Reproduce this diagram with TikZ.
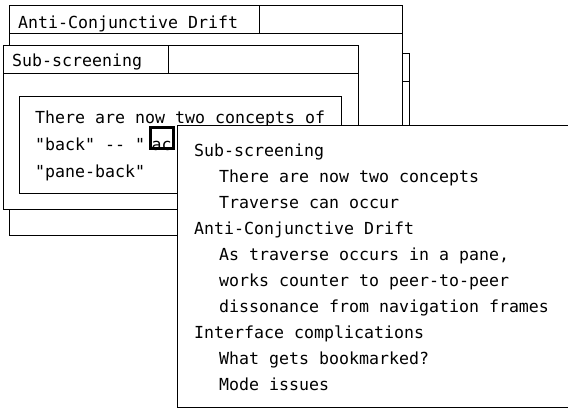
\documentclass[tikz,border=0pt]{standalone}
\usepackage{fontspec}
\newfontfamily\macfont{DejaVu Sans Mono}
\begin{document}
\begin{tikzpicture}[x=1pt,y=-1pt,
  win/.style={draw=black,fill=white,line width=1pt},
  rule/.style={draw=black,line width=1pt},
  txt/.style={anchor=base west,inner sep=0pt,font=\macfont\fontsize{16.6}{20}\selectfont},
  sel/.style={draw=black,line width=3pt}]
\useasboundingbox[fill=white] (0,0) rectangle (568,408);
% window at the back (only its right edge shows)
\draw[win] (380,53) rectangle (409,300);
\draw[rule] (380,81) -- (409,81);
% Anti-Conjunctive Drift window
\draw[win] (9,5) rectangle (402,235);
\draw[rule] (9,33) -- (402,33);
\draw[rule] (259,5) -- (259,33);
\node[txt] (t1) at (18,28) {Anti-Conjunctive Drift};
% Sub-screening window
\draw[win] (3,45) rectangle (358,209);
\draw[rule] (3,73) -- (358,73);
\draw[rule] (168,45) -- (168,73);
\node[txt] (t2) at (12,66) {Sub-screening};
\draw[rule] (19,96) rectangle (341,193);
\node[txt] (p1) at (35,123) {There are now two concepts of};
\node[txt] (p2) at (35,150) {"back" -- "};
\node[txt] (p2b) at (151.5,150) {ac};
\node[txt] (p3) at (35,177) {"pane-back"};
% selection box
\draw[sel] (150.5,127.5) rectangle (173.5,148.5);
% popup
\draw[win] (177,125) rectangle (600,407);
\foreach \i/\x/\s in {0/194/Sub-screening,
  1/219/There are now two concepts,
  2/219/Traverse can occur,
  3/194/Anti-Conjunctive Drift,
  4/219/{As traverse occurs in a pane,},
  5/219/works counter to peer-to-peer,
  6/219/dissonance from navigation frames,
  7/194/Interface complications,
  8/219/What gets bookmarked?,
  9/219/Mode issues}
  \node[txt] (q\i) at (\x,156+26.1*\i) {\s};
\end{tikzpicture}
\end{document}
